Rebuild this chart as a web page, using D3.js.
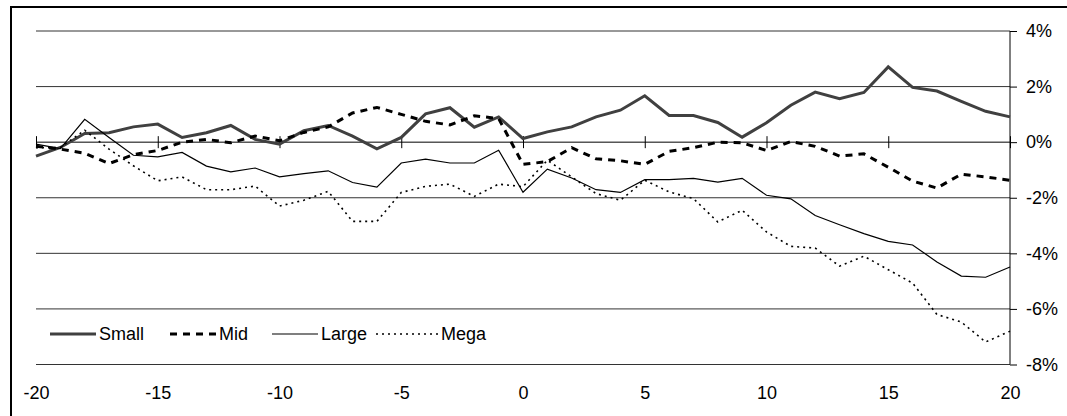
<!DOCTYPE html>
<html>
<head>
<meta charset="utf-8">
<script src="https://cdn.jsdelivr.net/npm/d3@7"></script>
<style>
  body { margin: 0; background: #fff; }
  svg { display: block; font-family: "Liberation Sans", Arial, sans-serif; }
</style>
</head>
<body>
<svg id="wykres"></svg>
<script>
// dane (w %), okres -20..20
let okres = d3.range(-20, 21);

let small = [-0.50, -0.19, 0.31, 0.34, 0.55, 0.65, 0.17, 0.34, 0.60, 0.10, -0.07,
  0.41, 0.60, 0.22, -0.24, 0.17, 1.02, 1.24, 0.54, 0.91, 0.13,
  0.37, 0.55, 0.91, 1.15, 1.67, 0.96, 0.96, 0.71, 0.18, 0.70,
  1.33, 1.80, 1.56, 1.79, 2.71, 1.97, 1.84, 1.47, 1.11, 0.91];

let mid = [-0.15, -0.25, -0.40, -0.77, -0.45, -0.30, 0.00, 0.10, -0.02, 0.22, 0.05,
  0.35, 0.55, 1.05, 1.25, 1.00, 0.75, 0.62, 0.95, 0.85, -0.80,
  -0.70, -0.20, -0.60, -0.67, -0.80, -0.33, -0.20, 0.00, -0.02, -0.30,
  0.02, -0.15, -0.50, -0.42, -0.90, -1.40, -1.65, -1.15, -1.25, -1.37];

let large = [-0.07, -0.23, 0.82, 0.17, -0.47, -0.53, -0.37, -0.86, -1.07, -0.93, -1.25,
  -1.13, -1.03, -1.45, -1.62, -0.75, -0.61, -0.75, -0.75, -0.29, -1.80,
  -0.97, -1.29, -1.71, -1.81, -1.35, -1.35, -1.30, -1.44, -1.30, -1.91,
  -2.04, -2.64, -2.97, -3.29, -3.57, -3.70, -4.31, -4.82, -4.86, -4.49];

let mega = [-0.20, -0.19, 0.43, -0.25, -0.85, -1.39, -1.25, -1.71, -1.71, -1.58, -2.30,
  -2.09, -1.77, -2.85, -2.85, -1.81, -1.59, -1.51, -1.95, -1.51, -1.60,
  -0.65, -1.25, -1.85, -2.09, -1.37, -1.79, -2.03, -2.87, -2.45, -3.23,
  -3.75, -3.81, -4.46, -4.10, -4.59, -5.07, -6.20, -6.47, -7.19, -6.80];

let xTicks = [-20, -15, -10, -5, 0, 5, 10, 15, 20];
let yTicks = [4, 2, 0, -2, -4, -6, -8];

let serie = [
  { nazwa: 'Small', dane: small, kolor: '#404040', grubosc: 3, kreska: null },
  { nazwa: 'Mid', dane: mid, kolor: '#000', grubosc: 3, kreska: '7,6' },
  { nazwa: 'Large', dane: large, kolor: '#000', grubosc: 1.2, kreska: null },
  { nazwa: 'Mega', dane: mega, kolor: '#000', grubosc: 1.6, kreska: '2,4' }
];

let czcionka = 18;

let svg = d3.select('#wykres').attr('width', 1067).attr('height', 416);

// ramka
svg.append('rect')
  .attr('x', 11).attr('y', 7)
  .attr('width', 1080).attr('height', 430)
  .attr('fill', 'none').attr('stroke', '#000').attr('stroke-width', 2);

let x = d3.scaleLinear().domain([-20, 20]).range([36, 1010]);
let y = d3.scaleLinear().domain([-8, 4]).range([364.5, 31]);

// linie siatki
svg.append('g')
  .selectAll('line')
  .data(yTicks)
  .join('line')
  .attr('x1', x(-20)).attr('x2', x(20))
  .attr('y1', d => y(d)).attr('y2', d => y(d))
  .attr('stroke', d => d === 0 ? '#000' : '#333')
  .attr('stroke-width', 1);

// os pozioma na 0%
let xAxis = svg.append('g')
  .attr('transform', 'translate(0,' + y(0) + ')')
  .call(d3.axisBottom(x).tickValues(xTicks).tickSize(6).tickFormat(''));
xAxis.select('.domain').remove();
xAxis.selectAll('.tick line').attr('y1', -6).attr('stroke', '#000');

// etykiety osi X
let xLab = svg.append('g')
  .attr('transform', 'translate(0,' + y(-8) + ')')
  .call(d3.axisBottom(x).tickValues(xTicks).tickSize(0).tickPadding(22).tickFormat(d => String(d)));
xLab.select('.domain').remove();
xLab.selectAll('text').attr('font-size', czcionka).attr('fill', '#000')
  .attr('font-family', '"Liberation Sans", Arial, sans-serif');

// os prawa
let yAxis = svg.append('g')
  .attr('transform', 'translate(' + x(20) + ',0)')
  .call(d3.axisRight(y).tickValues(yTicks).tickSize(7).tickPadding(9).tickFormat(d => d + '%'));
yAxis.select('.domain').attr('stroke', '#000').attr('d', 'M0,' + y(4) + 'V' + y(-8));
yAxis.selectAll('text').attr('font-size', czcionka).attr('fill', '#000')
  .attr('font-family', '"Liberation Sans", Arial, sans-serif');

// linie serii
let line = d3.line()
  .x((d, i) => x(okres[i]))
  .y(d => y(d));

for (let s of serie) {
  svg.append('path')
    .datum(s.dane)
    .attr('d', line)
    .attr('fill', 'none')
    .attr('stroke', s.kolor)
    .attr('stroke-width', s.grubosc)
    .attr('stroke-dasharray', s.kreska)
    .attr('stroke-linejoin', 'miter');
}

// legenda
let legX = [50, 170, 272, 376];
let legLen = [46, 46, 46, 62];
let leg = svg.append('g').attr('transform', 'translate(0,334)');
serie.forEach((s, i) => {
  leg.append('line')
    .attr('x1', legX[i]).attr('x2', legX[i] + legLen[i])
    .attr('y1', 0).attr('y2', 0)
    .attr('stroke', s.kolor)
    .attr('stroke-width', s.grubosc)
    .attr('stroke-dasharray', s.kreska);
  leg.append('text')
    .attr('x', legX[i] + legLen[i] + 3)
    .attr('y', 6)
    .attr('font-size', czcionka)
    .text(s.nazwa);
});
</script>
</body>
</html>
